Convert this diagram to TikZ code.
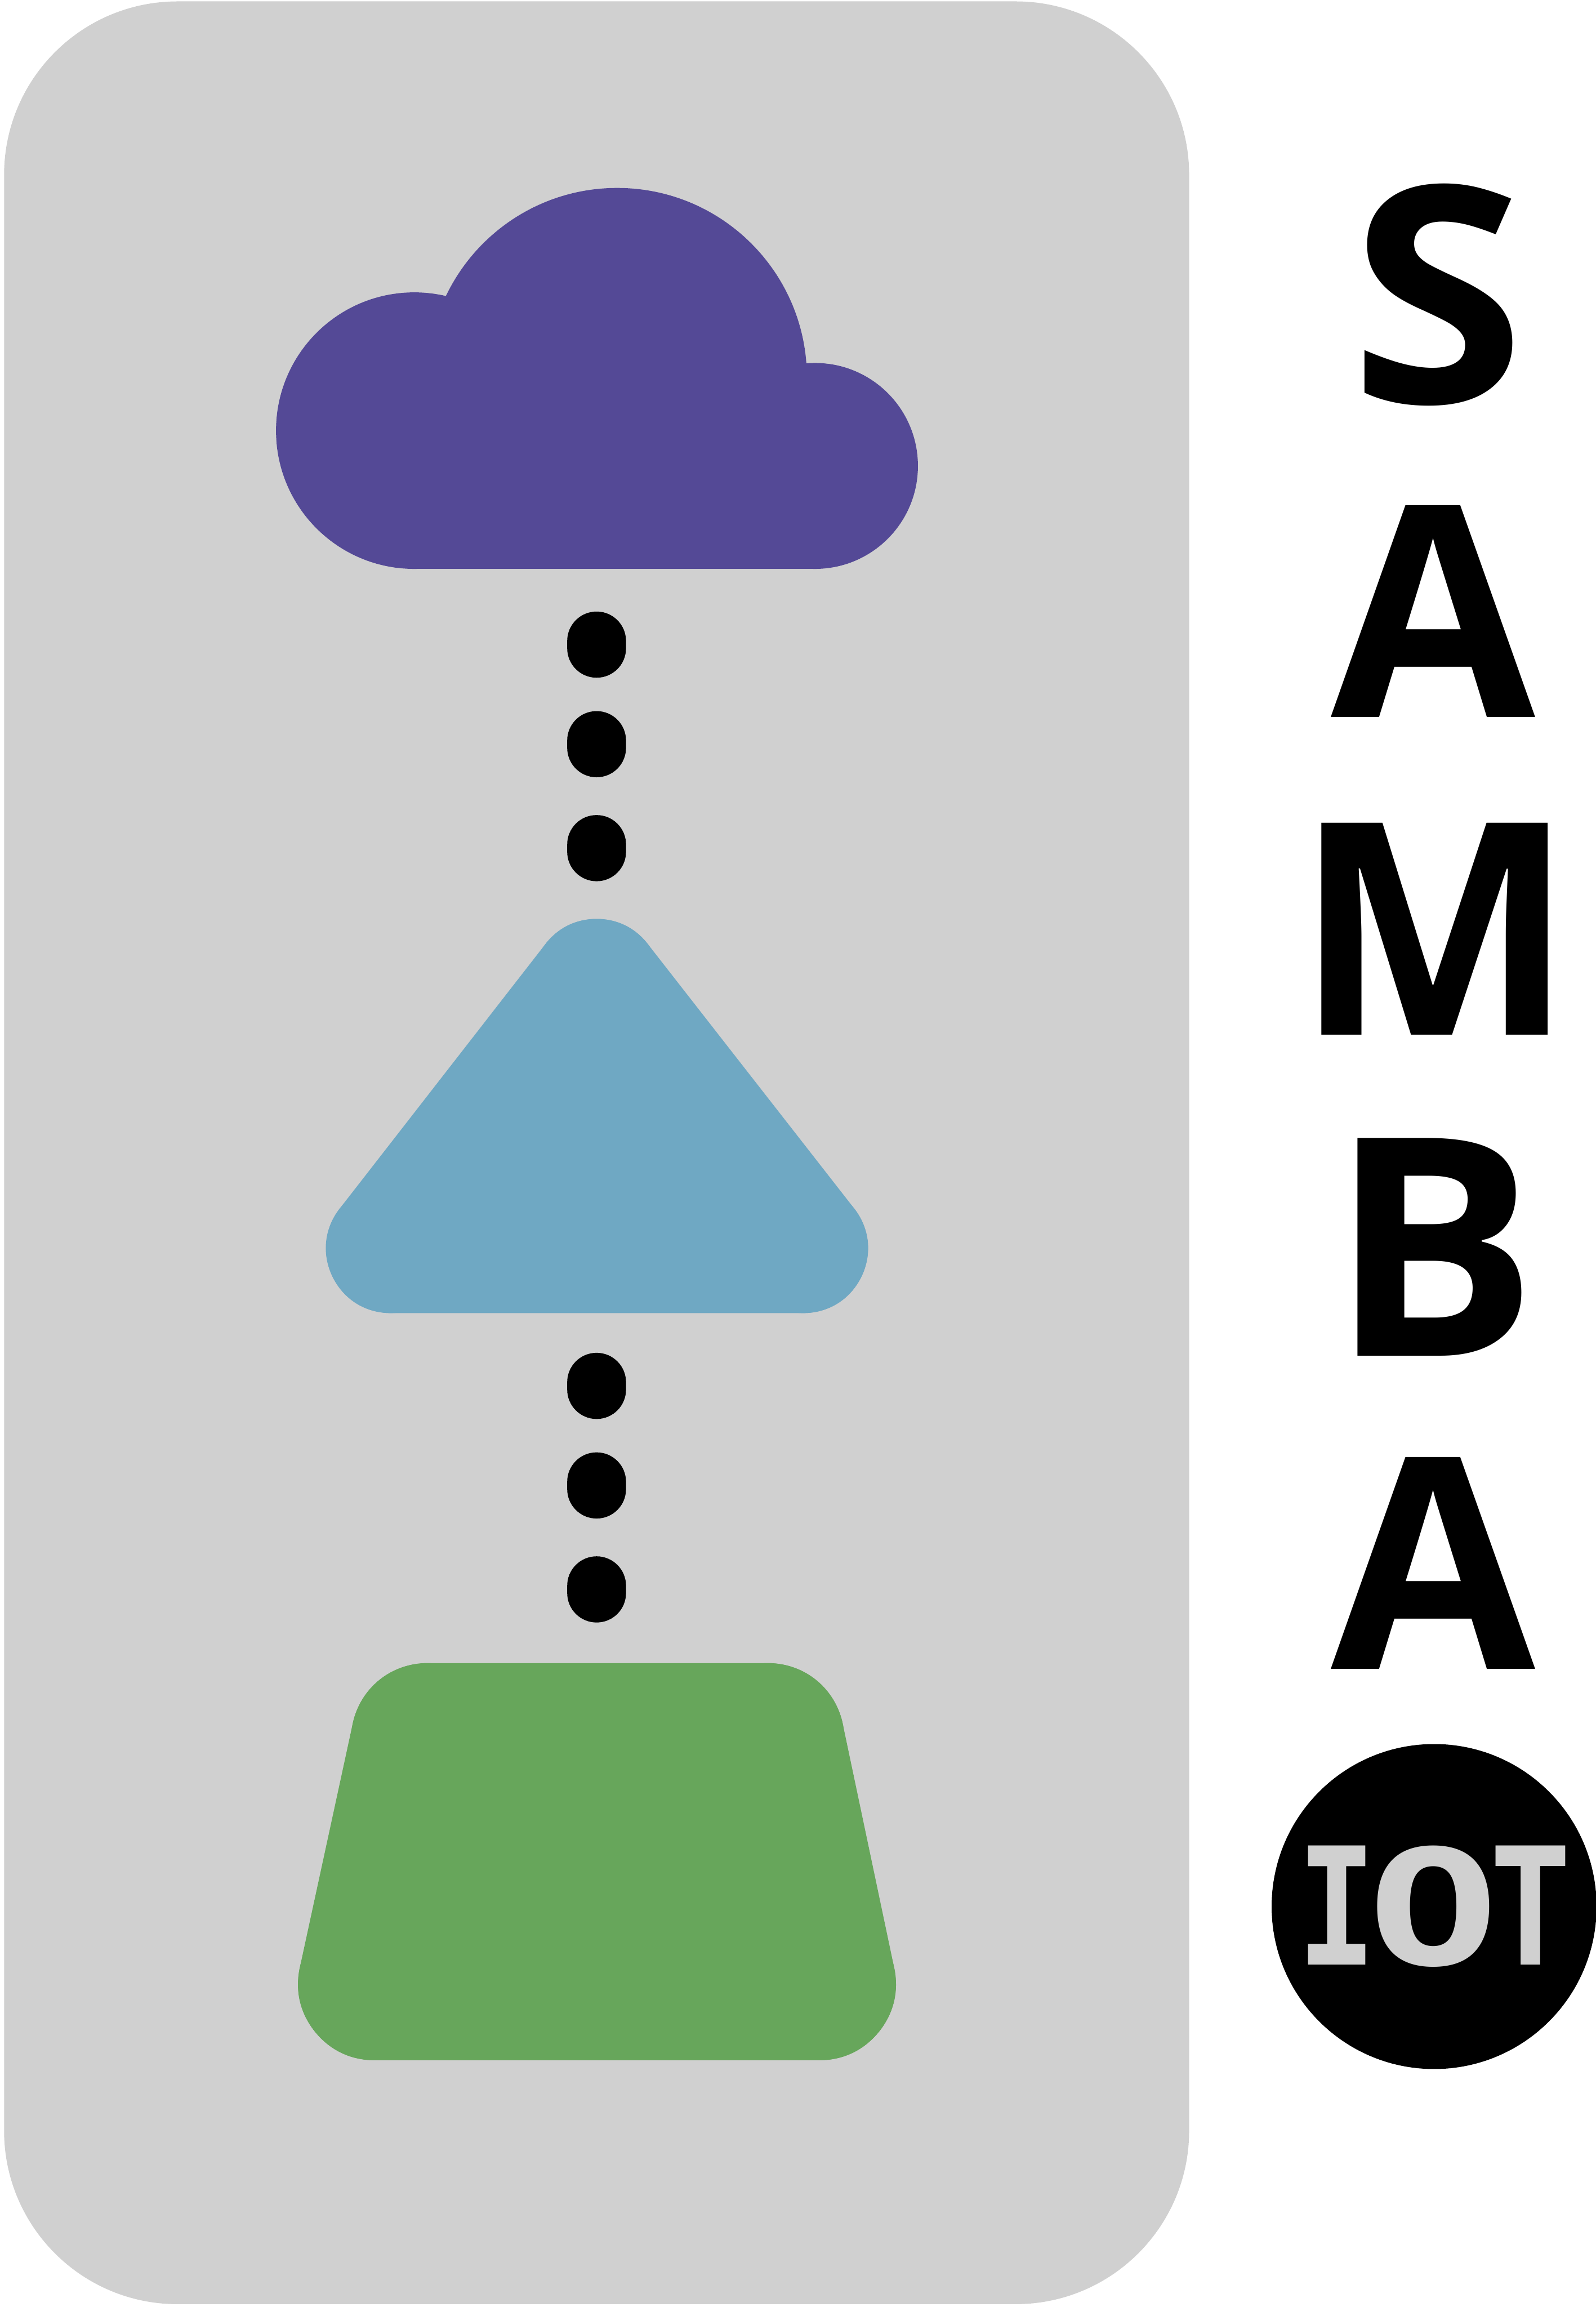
\documentclass[tikz,border=0pt]{standalone}
\usepackage{fontspec}
\usepackage{graphicx}
\usepackage{xcolor}
\usetikzlibrary{positioning}
\setmainfont{Open Sans}
\newfontfamily\iotfont{DejaVu Sans Mono}
\definecolor{panelgray}{HTML}{D0D0D0}
\definecolor{cloudpurple}{HTML}{544996}
\definecolor{peakblue}{HTML}{6FA8C3}
\definecolor{basegreen}{HTML}{67A65B}

\begin{document}
\begin{tikzpicture}[
            x=0.02cm,y=-0.02cm,
            panel/.style={fill=panelgray,rounded corners=2.36cm,minimum width=16.12cm,minimum height=31.32cm,inner sep=0pt},
            dotpill/.style={fill=black,rounded corners=0.4cm,minimum width=0.8cm,minimum height=0.9cm,inner sep=0pt},
            letter/.style={inner sep=0pt,text=black,font=\bfseries},
            iotdisc/.style={circle,fill=black,text=panelgray,minimum size=4.42cm,inner sep=0pt,font=\iotfont\bfseries},
            blob/.style={line join=round}
        ]
            \useasboundingbox (-0.7,-0.8) rectangle (1084.3,1567.8);
            \node[panel] (back) at (405,783) {};

            % cloud
            \fill[cloudpurple] (419,256) circle (129);
            \fill[cloudpurple] (281,292) circle (94);
            \fill[cloudpurple] (553.5,316) circle (70);
            \fill[cloudpurple] (281,292) rectangle (553.5,386);

            % triangle and trapezoid
            \filldraw[blob,peakblue,line width=1.76cm] (265,848) -- (405,668) -- (545.5,848) -- cycle;
            \foreach \cx/\cy in {265/848,405/668,545.5/848}
                \fill[peakblue] (\cx,\cy) circle (44);
            \filldraw[blob,basegreen,line width=2.08cm] (290,1182) -- (521.5,1182) -- (556.5,1348) -- (254,1348) -- cycle;
            \foreach \cx/\cy in {290/1182,521.5/1182,556.5/1348,254/1348}
                \fill[basegreen] (\cx,\cy) circle (52);

            \node[dotpill] (dotA) at (405,437.5) {};
            \node[dotpill,below=4.4mm of dotA] (dotB) {};
            \node[dotpill,below=5.0mm of dotB] (dotC) {};
            \node[dotpill] (dotD) at (405,941.5) {};
            \node[dotpill,below=4.4mm of dotD] (dotE) {};
            \node[dotpill,below=5.0mm of dotE] (dotF) {};

            \node[letter] (letS) at (977,199.5) {\resizebox{2.38cm}{2.98cm}{S}};
            \node[letter] (letA) at (974,415) {\resizebox{2.78cm}{2.88cm}{A}};
            \node[letter] (letM) at (975,631) {\resizebox{3.8cm}{2.88cm}{M}};
            \node[letter] (letB) at (974.5,847) {\resizebox{2.83cm}{2.96cm}{B}};
            \node[letter] (letAb) at (974,1062) {\resizebox{2.78cm}{2.88cm}{A}};

            \node[iotdisc] (iot) at (974.5,1295.5) {\resizebox{1.08cm}{1.62cm}{I}\kern-0.12cm\resizebox{1.79cm}{1.62cm}{O}\kern-0.13cm\resizebox{1.11cm}{1.62cm}{T}};
        \end{tikzpicture}
\end{document}
